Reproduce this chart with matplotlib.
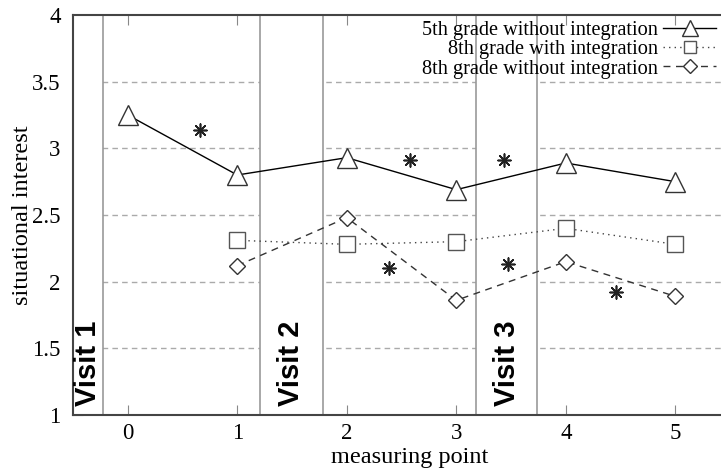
import matplotlib
matplotlib.use("Agg")
import matplotlib.pyplot as plt

points = [0, 1, 2, 3, 4, 5]
fifth_without = [3.25, 2.80, 2.93, 2.69, 2.89, 2.75]
eighth_with_x = [1, 2, 3, 4, 5]
eighth_with = [2.31, 2.28, 2.30, 2.40, 2.28]
eighth_without_x = [1, 2, 3, 4, 5]
eighth_without = [2.12, 2.48, 1.86, 2.15, 1.89]

star_x = [0.66, 2.58, 3.44, 2.39, 3.47, 4.46]
star_y = [3.14, 2.91, 2.91, 2.10, 2.13, 1.92]

visits = ["Visit 1", "Visit 2", "Visit 3"]
visit_spans = [(-0.5, -0.23), (1.21, 1.78), (3.18, 3.74)]

yticks = [1, 1.5, 2, 2.5, 3, 3.5, 4]
ytick_labels = ["1", "1.5", "2", "2.5", "3", "3.5", "4"]

plt.rcParams['font.family'] = ['Liberation Serif', 'DejaVu Serif']

fig = plt.figure(figsize=(7.21, 4.68), dpi=100)
# plot area continues slightly past the right edge of the image (cropped), as in the reference
ax = fig.add_axes([73/721, 53/468, 674/721, 400/468])

ax.set_xlim(-0.5, 5.655)
ax.set_ylim(1, 4)

for g in [1.5, 2, 2.5, 3, 3.5]:
    ax.axhline(g, color='#aaaaaa', linestyle=(0, (4, 3)), linewidth=1.0, zorder=1)

for (a, b), name in zip(visit_spans, visits):
    ax.axvspan(a, b, facecolor='white', edgecolor='#999999', linewidth=1.2, zorder=2)
    ax.text((a + b) / 2, 1.07, name, rotation=90, ha='center', va='bottom',
            fontsize=21, fontweight='bold', family='Liberation Sans', zorder=3)

ax.plot(points, fifth_without, color='black', linestyle='-', linewidth=1.0,
        marker='^', markersize=14, markerfacecolor='white', markeredgecolor='#333333',
        markeredgewidth=1.0, label='5th grade without integration', zorder=4)
ax.plot(eighth_with_x, eighth_with, color='#444444', linestyle=(0, (1, 3)), linewidth=1.0,
        marker='s', markersize=11, markerfacecolor='white', markeredgecolor='#555555',
        markeredgewidth=1.0, label='8th grade with integration', zorder=4)
ax.plot(eighth_without_x, eighth_without, color='#333333', linestyle=(0, (5, 4)), linewidth=1.0,
        marker='D', markersize=8.5, markerfacecolor='white', markeredgecolor='#333333',
        markeredgewidth=1.0, label='8th grade without integration', zorder=4)

ax.scatter(star_x, star_y, marker=(8, 2, 0), s=85, color='#222222', linewidths=1.2, zorder=4)

ax.set_xticks(points)
ax.set_xticklabels([str(p) for p in points], fontsize=16.5)
ax.set_yticks(yticks)
ax.set_yticklabels(ytick_labels, fontsize=16.5)
ax.tick_params(axis='x', direction='in', top=True, length=7, color='#888888', pad=6)
ax.tick_params(axis='y', direction='in', right=True, length=7, color='#888888', pad=9)

ax.set_xlabel('measuring point', fontsize=17.5, labelpad=2)
ax.set_ylabel('situational interest', fontsize=17.5, labelpad=-1)

for s in ['top', 'bottom', 'left']:
    ax.spines[s].set_color('#444444')
    ax.spines[s].set_linewidth(1.5)
ax.spines['right'].set_visible(False)

leg = ax.legend(loc='upper right', bbox_to_anchor=(716/721, 1 - 21/468),
                bbox_transform=fig.transFigure, frameon=False, markerfirst=False,
                fontsize=14.6, handlelength=2.6, handletextpad=0.25, labelspacing=0.0,
                borderaxespad=0.0, borderpad=0.0, markerscale=0.8)
for t in leg.get_texts():
    t.set_ha('right')
leg.set_zorder(5)

fig.savefig('out.png', dpi=100)
